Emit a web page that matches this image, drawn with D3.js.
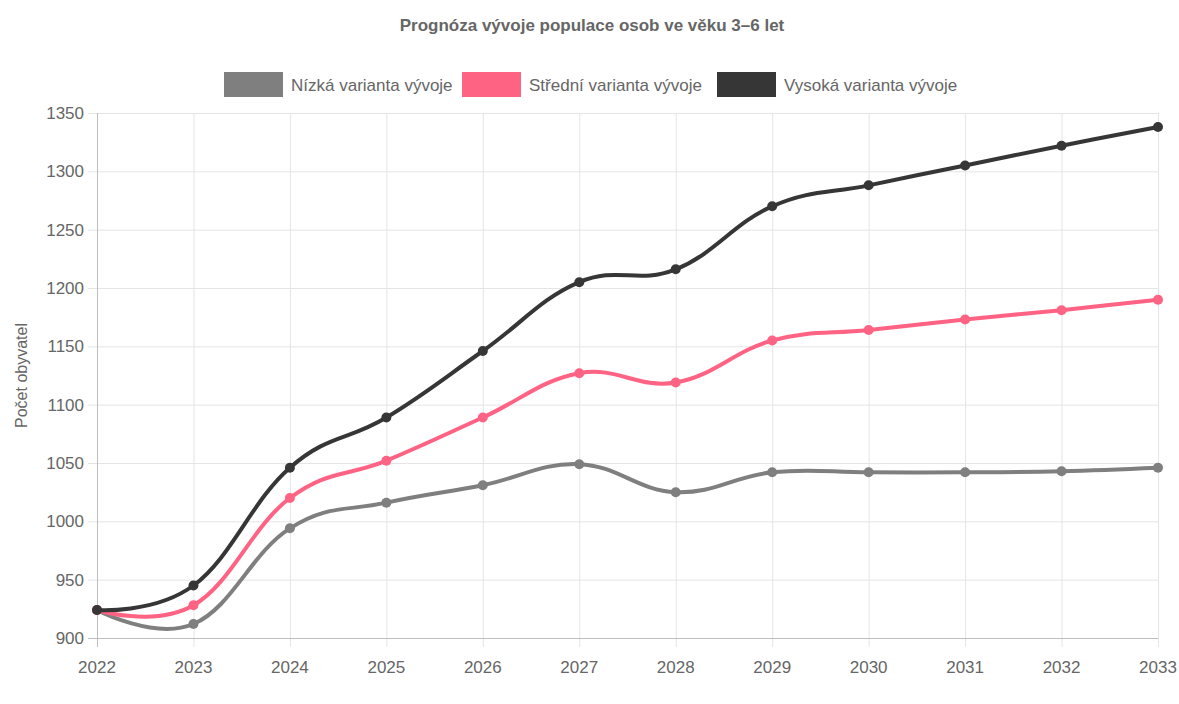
<!DOCTYPE html>
<html>
<head>
<meta charset="utf-8">
<script src="https://cdn.jsdelivr.net/npm/d3@7"></script>
<style>
  body { margin: 0; background: #fff; }
  svg { display: block; font-family: "Liberation Sans", Arial, sans-serif; }
</style>
</head>
<body>
<div id="graf"></div>
<script>
// data
const roky = [2022, 2023, 2024, 2025, 2026, 2027, 2028, 2029, 2030, 2031, 2032, 2033];
const nizka = [924, 912, 994, 1016, 1031, 1049, 1025, 1042, 1042, 1042, 1043, 1046];
const stredni = [924, 928, 1020, 1052, 1089, 1127, 1119, 1155, 1164, 1173, 1181, 1190];
const vysoka = [924, 945, 1046, 1089, 1146, 1205, 1216, 1270, 1288, 1305, 1322, 1338];
const yTicks = [900, 950, 1000, 1050, 1100, 1150, 1200, 1250, 1300, 1350];

const serie = [
  { nazev: "Nízká varianta vývoje", hodnoty: nizka, barva: "#7f7f7f" },
  { nazev: "Střední varianta vývoje", hodnoty: stredni, barva: "#ff6384" },
  { nazev: "Vysoká varianta vývoje", hodnoty: vysoka, barva: "#363636" }
];

const sirka = 1179, vyska = 704;
const okraj = { top: 113, right: 21, bottom: 66, left: 97 };

const svg = d3.select("#graf").append("svg")
  .attr("width", sirka)
  .attr("height", vyska);

const x = d3.scalePoint().domain(roky).range([okraj.left, sirka - okraj.right]);
const y = d3.scaleLinear().domain([900, 1350]).range([vyska - okraj.bottom, okraj.top]);

// mřížka
const mrizka = svg.append("g").attr("stroke", "#e5e5e5").attr("stroke-width", 1);
mrizka.selectAll("line.h")
  .data(yTicks)
  .join("line")
  .attr("x1", okraj.left - 9)
  .attr("x2", sirka - okraj.right)
  .attr("y1", d => y(d) + 0.5)
  .attr("y2", d => y(d) + 0.5);
mrizka.selectAll("line.v")
  .data(roky)
  .join("line")
  .attr("y1", okraj.top)
  .attr("y2", vyska - okraj.bottom + 9)
  .attr("x1", d => x(d) + 0.5)
  .attr("x2", d => x(d) + 0.5);

// osy
svg.append("line")
  .attr("x1", okraj.left + 0.5).attr("x2", okraj.left + 0.5)
  .attr("y1", okraj.top).attr("y2", vyska - okraj.bottom + 9)
  .attr("stroke", "#bdbdbd");
svg.append("line")
  .attr("x1", okraj.left - 9).attr("x2", sirka - okraj.right)
  .attr("y1", y(900) + 0.5).attr("y2", y(900) + 0.5)
  .attr("stroke", "#bdbdbd");

svg.append("g")
  .selectAll("text")
  .data(yTicks)
  .join("text")
  .attr("x", okraj.left - 13)
  .attr("y", d => y(d))
  .attr("dy", "0.35em")
  .attr("text-anchor", "end")
  .attr("font-size", 17)
  .attr("fill", "#666")
  .text(d => d);

svg.append("g")
  .selectAll("text")
  .data(roky)
  .join("text")
  .attr("x", d => x(d))
  .attr("y", vyska - okraj.bottom + 29)
  .attr("dy", "0.35em")
  .attr("text-anchor", "middle")
  .attr("font-size", 17)
  .attr("fill", "#666")
  .text(d => d);

// popisky os
svg.append("text")
  .attr("transform", `translate(27,${(okraj.top + vyska - okraj.bottom) / 2}) rotate(-90)`)
  .attr("text-anchor", "middle")
  .attr("font-size", 16)
  .attr("fill", "#666")
  .text("Počet obyvatel");

// v originále je popisek osy x oříznutý spodním okrajem
svg.append("text")
  .attr("x", (okraj.left + sirka - okraj.right) / 2)
  .attr("y", 716)
  .attr("text-anchor", "middle")
  .attr("font-size", 16)
  .attr("fill", "#666")
  .text("Rok");

// titulek
svg.append("text")
  .attr("x", 592)
  .attr("y", 31)
  .attr("text-anchor", "middle")
  .attr("font-size", 17)
  .attr("font-weight", "bold")
  .attr("fill", "#666")
  .text("Prognóza vývoje populace osob ve věku 3–6 let");

// legenda
const legendaX = [224, 462, 717];
const legenda = svg.append("g")
  .selectAll("g")
  .data(serie)
  .join("g")
  .attr("transform", (d, i) => `translate(${legendaX[i]},72)`);
legenda.append("rect")
  .attr("width", 59)
  .attr("height", 25)
  .attr("fill", d => d.barva);
legenda.append("text")
  .attr("x", 67)
  .attr("y", 13)
  .attr("dy", "0.35em")
  .attr("font-size", 17)
  .attr("fill", "#666")
  .text(d => d.nazev);

// čáry
const cara = d3.line()
  .x((d, i) => x(roky[i]))
  .y(d => y(d))
  .curve(d3.curveCardinal.tension(-0.2));

const skupiny = svg.append("g")
  .selectAll("g")
  .data(serie)
  .join("g");

skupiny.append("path")
  .attr("d", d => cara(d.hodnoty))
  .attr("fill", "none")
  .attr("stroke", d => d.barva)
  .attr("stroke-width", 4);

skupiny.each(function(s) {
  d3.select(this).selectAll("circle")
    .data(s.hodnoty)
    .join("circle")
    .attr("cx", (d, i) => x(roky[i]))
    .attr("cy", d => y(d))
    .attr("r", 5)
    .attr("fill", s.barva);
});
</script>
</body>
</html>
